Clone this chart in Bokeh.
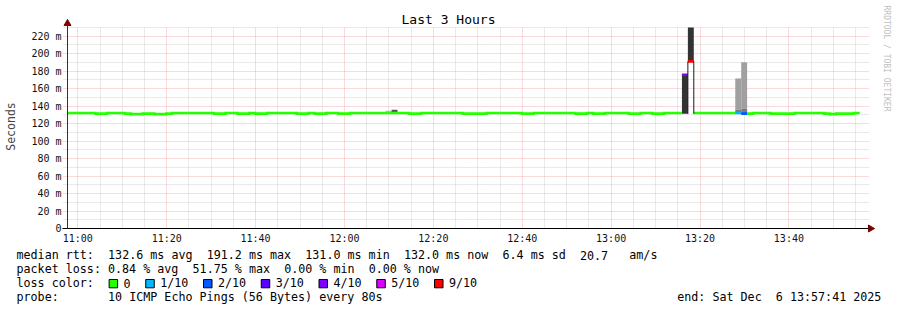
import re
import math
import numpy as np
import pandas as pd
from bokeh.plotting import figure
from bokeh.models import (Range1d, FixedTicker, CustomJSTickFormatter,
                          DatetimeTickFormatter, Grid)
from bokeh.embed import file_html
from bokeh.resources import INLINE
from bokeh.core.properties import value

# ---------------- data ----------------
graph_start = "2025-12-06 10:57:41"
graph_end = "2025-12-06 13:57:41"
first_sample = "2025-12-06 10:57:16"
step_seconds = 80

# median rtt per 80 s sample (ms)
median_ms = [
    132.2, 132.2, 132.2, 132.2, 132.2, 131.5, 131.5, 132.2, 132.2, 132.2,
    131.5, 130.9, 130.9, 131.5, 131.5, 130.9, 130.9, 131.5, 132.2, 132.2,
    132.2, 132.2, 132.2, 132.2, 132.2, 131.5, 131.5, 132.2, 132.2, 131.5,
    131.5, 132.2, 131.5, 131.5, 132.2, 132.2, 132.2, 132.2, 132.2, 131.5,
    131.5, 132.2, 131.5, 131.5, 132.2, 132.2, 131.5, 131.5, 132.2, 132.2,
    132.2, 132.2, 132.2, 132.2, 132.2, 132.2, 132.2, 132.2, 131.5, 131.5,
    132.2, 132.2, 132.2, 132.2, 132.2, 132.2, 132.2, 131.5, 131.5, 131.5,
    131.5, 132.2, 132.2, 132.2, 132.2, 132.2, 132.2, 131.5, 131.5, 132.2,
    132.2, 132.2, 132.2, 132.2, 132.2, 132.2, 131.5, 131.5, 132.2, 131.5,
    131.5, 132.2, 132.2, 132.2, 132.2, 131.5, 131.5, 132.2, 132.2, 131.5,
    131.5, 132.2, 132.2, 132.2, 176.0, 191.2, 132.2, 132.2, 132.2, 132.2,
    132.2, 132.2, 132.2, 132.2, 131.5, 131.5, 132.2, 132.2, 132.2, 131.5,
    131.5, 131.5, 131.5, 132.2, 132.2, 132.2, 132.2, 132.2, 131.5, 130.9,
    131.5, 131.5, 131.5, 132.2,
]

# samples with packet loss (index into median_ms, lost pings out of 10)
loss_index = [104, 105, 113, 114]
loss_tenths = [4, 9, 1, 2]

# visible smoke (ping spread) per sample
smoke_index = [54, 55, 104, 105, 113, 113, 114, 114]
smoke_lo = [131.0, 131.0, 131.4, 191.2, 136.0, 131.0, 137.0, 131.0]
smoke_hi = [134.7, 135.8, 176.0, 230.0, 171.6, 136.0, 190.2, 137.0]
smoke_shade = ["#bdbdbd", "#555555", "#333333", "#333333",
               "#a0a0a0", "#7a7a7a", "#a0a0a0", "#7a7a7a"]

# outline of the high-loss sample
edge_index = [105]
edge_lo = [131.2]

legend_labels = ["0", "1/10", "2/10", "3/10", "4/10", "5/10", "9/10"]
legend_colors = ["#26ff00", "#00b8ff", "#0059ff", "#5e00ff", "#7e00ff", "#dd00ff", "#ff0000"]
legend_tenths = [0, 1, 2, 3, 4, 5, 9]

y_ticks = [0, 20, 40, 60, 80, 100, 120, 140, 160, 180, 200, 220]
y_minor = [10, 30, 50, 70, 90, 110, 130, 150, 170, 190, 210, 230]
y_max = 230

title_text = "Last 3 Hours"
watermark_text = "RRDTOOL / TOBI OETIKER"
row_rtt = "median rtt:  132.6 ms avg  191.2 ms max  131.0 ms min  132.0 ms now  6.4 ms sd  20.7   am/s"
row_loss = "packet loss: 0.84 % avg  51.75 % max  0.00 % min  0.00 % now"
row_color = "loss color:"
row_probe = "probe:       10 ICMP Echo Pings (56 Bytes) every 80s"
row_end = "end: Sat Dec  6 13:57:41 2025"

# ---------------- derived ----------------
def ms(s):
    return pd.Timestamp(s).value / 1e6

start_ms, end_ms = ms(graph_start), ms(graph_end)
t0 = ms(first_sample)
n = len(median_ms)
edges = t0 + np.arange(n + 1) * step_seconds * 1000.0
loss = np.zeros(n, dtype=int)
loss[loss_index] = loss_tenths
color_of = dict(zip(legend_tenths, legend_colors))

FONT = "DejaVu Sans Mono"
W, H = 897, 310
FL, FR, FT, FB = 67, 867, 27, 228      # chart area edges in canvas pixels

sx = (end_ms - start_ms) / (FR - FL)
sy = y_max / (FB - FT)
def cx(px):
    return start_ms + (px - FL) * sx
def cy(py):
    return (FB - py) * sy

# one frame covering the whole canvas; chart area is placed via the ranges
p = figure(width=W, height=H, x_axis_type="datetime", title=None,
           x_range=Range1d(cx(0), cx(W)), y_range=Range1d(cy(H), cy(0)),
           toolbar_location=None, output_backend="svg", min_border=0)
p.outline_line_color = None
p.background_fill_color = "white"
p.border_fill_color = "white"

# axes
maj = pd.date_range("2025-12-06 11:00", "2025-12-06 13:40", freq="20min")
mnr = [t for t in pd.date_range("2025-12-06 11:00", "2025-12-06 13:55", freq="5min") if t.minute % 20 != 0]
x_major = [t.value / 1e6 for t in maj]
x_minor = [t.value / 1e6 for t in mnr]
p.xaxis.ticker = FixedTicker(ticks=x_major, minor_ticks=x_minor)
p.xaxis.formatter = DatetimeTickFormatter(minutes="%H:%M", hourmin="%H:%M", hours="%H:%M",
                                          minsec="%H:%M", seconds="%H:%M", days="%H:%M")
p.yaxis.ticker = FixedTicker(ticks=y_ticks, minor_ticks=y_minor)
p.yaxis.formatter = CustomJSTickFormatter(code="return tick == 0 ? '0' : tick.toFixed(0) + ' m';")
p.xaxis.fixed_location = 0
p.yaxis.fixed_location = start_ms
p.xaxis.bounds = (cx(62), cx(868))
p.yaxis.bounds = (0, cy(24))

for ax in (p.xaxis[0], p.yaxis[0]):
    ax.major_tick_out = 0
    ax.major_tick_in = 0
    ax.minor_tick_out = 0
    ax.minor_tick_in = 0
    ax.major_label_text_font = FONT
    ax.major_label_text_font_size = "10px"
    ax.major_label_text_color = "#111111"
p.xaxis.axis_line_color = "black"
p.yaxis.axis_line_color = "#333333"
p.xaxis.major_label_standoff = 4
p.yaxis.major_label_standoff = 6
p.yaxis.axis_label = "Seconds"
p.yaxis.axis_label_text_font = FONT
p.yaxis.axis_label_text_font_size = "11.5px"
p.yaxis.axis_label_text_font_style = "normal"
p.yaxis.axis_label_standoff = 10

MAJ_COL, MIN_COL = "#f4b4b4", "#d2d2d2"
if "cross_bounds" in Grid.properties():
    for g in (p.xgrid[0], p.ygrid[0]):
        g.grid_line_color = MAJ_COL
        g.grid_line_dash = "1 1"
        g.minor_grid_line_color = MIN_COL
        g.minor_grid_line_dash = "1 1"
    p.xgrid.bounds = (start_ms, end_ms)
    p.xgrid.cross_bounds = (0, y_max)
    p.ygrid.bounds = (0, y_max)
    p.ygrid.cross_bounds = (cx(63), cx(869))
else:
    p.grid.visible = False
    for ticks, col in ((y_minor, MIN_COL), (y_ticks, MAJ_COL)):
        p.segment(x0=cx(63), x1=cx(869), y0=ticks, y1=ticks, line_color=col,
                  line_dash="1 1", line_width=1)
    for ticks, col in ((x_minor, MIN_COL), (x_major, MAJ_COL)):
        p.segment(x0=ticks, x1=ticks, y0=0, y1=y_max, line_color=col,
                  line_dash="1 1", line_width=1)

# smoke
p.quad(left=edges[smoke_index], right=edges[np.array(smoke_index) + 1],
       bottom=smoke_lo, top=smoke_hi, fill_color=smoke_shade, line_color=None)

# median line, green where no loss
xs, ys = [], []
k = 0
while k < n:
    if loss[k] != 0:
        k += 1
        continue
    j = k
    while j < n and loss[j] == 0:
        j += 1
    rx, ry = [], []
    for i in range(k, j):
        rx += [max(edges[i], start_ms), edges[i + 1]]
        ry += [median_ms[i], median_ms[i]]
    xs.append(rx)
    ys.append(ry)
    k = j
p.multi_line(xs, ys, line_color=color_of[0], line_width=2.6, line_join="miter")

li = np.array(loss_index)
p.segment(x0=edges[li], x1=edges[li + 1], y0=[median_ms[i] for i in loss_index],
          y1=[median_ms[i] for i in loss_index], line_color=[color_of[t] for t in loss_tenths],
          line_width=2.6)

ei = np.array(edge_index)
ex = list(edges[ei]) + list(edges[ei + 1])
p.segment(x0=ex, x1=ex, y0=edge_lo * 2, y1=[median_ms[i] for i in edge_index] * 2,
          line_color="#1a1a1a", line_width=1)

# axis arrow heads
p.scatter(x=[start_ms], y=[cy(23)], marker="triangle", size=7, color="#7f0000")
p.scatter(x=[cx(870)], y=[0], marker="triangle", size=7, angle=-math.pi / 2, color="#7f0000")

# title and watermark
p.text(x=[cx(448)], y=[cy(19)], text=[title_text], text_font=value(FONT),
       text_font_size="13px", text_align="center", text_baseline="middle", text_color="black")
p.text(x=[cx(886)], y=[cy(5)], text=[watermark_text], angle=-math.pi / 2, text_font=value(FONT),
       text_font_size="8px", text_align="left", text_baseline="middle", text_color="#c0c0c0")

# ---------------- legend ----------------
fs = 11.7
cw = 0.602 * fs
x0 = 16
rows_y = [254.5, 268.5, 282.5, 296.3]

tx, ty, tt = [], [], []
def add_row(s, y, xstart):
    for m in re.finditer(r"\S+(?: \S+)*", s):
        tx.append(cx(xstart + m.start() * cw))
        ty.append(cy(y))
        tt.append(m.group())

add_row(row_rtt, rows_y[0], x0)
add_row(row_loss, rows_y[1], x0)
add_row(row_color, rows_y[2], x0)
add_row(row_probe, rows_y[3], x0)
add_row(row_end, rows_y[3], 881 - len(row_end) * cw)

sq_l, sq_r = [], []
lab_x = x0 + 15.2 * cw
for lab in legend_labels:
    left = lab_x - 2.05 * cw
    sq_l.append(cx(left))
    sq_r.append(cx(left + 8.5))
    tx.append(cx(lab_x))
    ty.append(cy(rows_y[2]))
    tt.append(lab)
    lab_x += (len(lab) + 4.2) * cw

p.text(x=tx, y=ty, text=tt, text_font=value(FONT), text_font_size=f"{fs}px",
       text_baseline="middle", text_align="left", text_color="black")
p.quad(left=sq_l, right=sq_r, top=cy(rows_y[2] - 3.5), bottom=cy(rows_y[2] + 4.8),
       fill_color=legend_colors, line_color="black", line_width=1)

open("out.html", "w").write(file_html(p, INLINE))
